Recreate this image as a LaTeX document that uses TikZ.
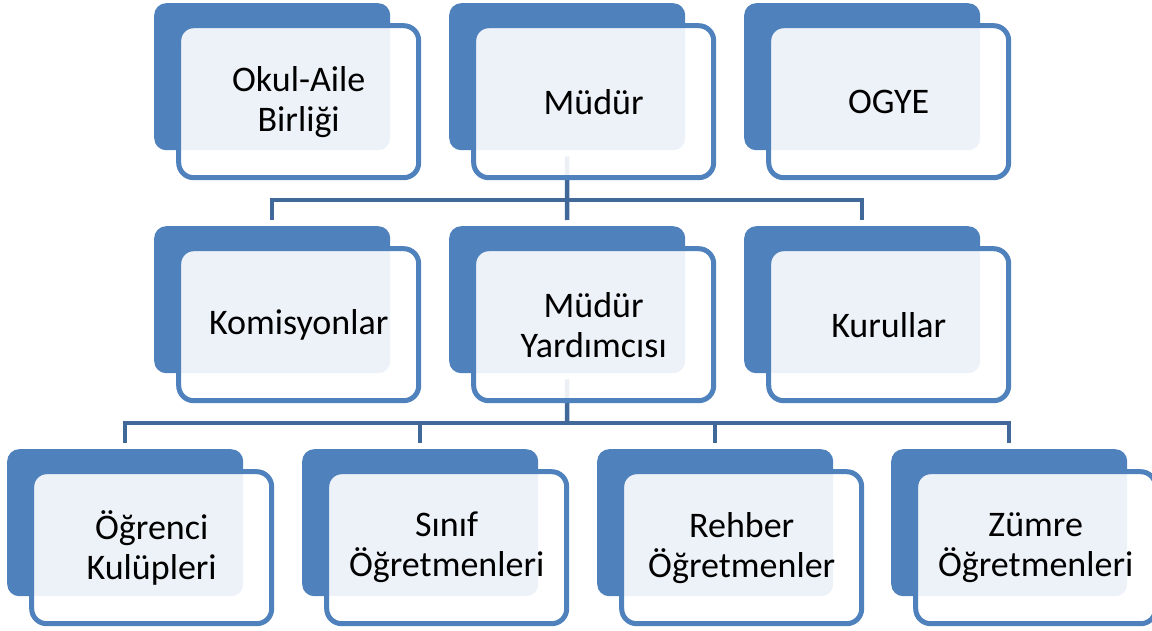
\documentclass[tikz,border=0pt]{standalone}
\usepackage{fontspec}
\setmainfont{Carlito}
\usepackage{tikz}
\definecolor{boxblue}{RGB}{79,129,189}
\definecolor{linkblue}{RGB}{64,104,153}

\begin{document}
\begin{tikzpicture}[x=1pt,y=-1pt,
    every node/.style={font=\fontsize{36pt}{40pt}\selectfont},
    back/.style={fill=boxblue, rounded corners=12pt, minimum width=236pt, minimum height=147pt, anchor=north west, inner sep=0pt},
    front/.style={draw=boxblue, line width=5pt, fill=white, fill opacity=0.9, text opacity=1, rounded corners=15pt, minimum width=240pt, minimum height=152pt, align=center, inner sep=0pt},
    link/.style={draw=linkblue, line width=4.5pt}]
    \useasboundingbox (0,0) rectangle (1152,631);
    % back boxes
    \node[back] (okulb) at (154,3) {};
    \node[back] (mudurb) at (449,3) {};
    \node[back] (ogyeb) at (744,3) {};
    \node[back] (komb) at (154,226) {};
    \node[back] (yrdb) at (449,226) {};
    \node[back] (kurulb) at (744,226) {};
    \node[back] (ogrb) at (7,449) {};
    \node[back] (sinifb) at (302,449) {};
    \node[back] (rehberb) at (597,449) {};
    \node[back] (zumreb) at (891,449) {};
    % connectors
    \coordinate (bar1) at (567,200);
    \coordinate (bar2) at (567,423);
    \draw[link] ([yshift=-6pt]mudurb.south) -- (bar1);
    \draw[link] ([yshift=6pt]komb.north) |- (bar1) -| ([yshift=6pt]kurulb.north);
    \draw[link] (bar1) -- ([yshift=6pt]yrdb.north);
    \draw[link] ([yshift=-6pt]yrdb.south) -- (bar2);
    \draw[link] ([yshift=6pt]ogrb.north) |- (bar2) -| ([yshift=6pt]zumreb.north);
    \draw[link] ([yshift=6pt]sinifb.north) |- (bar2);
    \draw[link] ([yshift=6pt]rehberb.north) |- (bar2);
    % front boxes
    \node[front] (okul) at ([shift={(26.5pt,-25pt)}]okulb.center) {Okul-Aile\\Birliği};
    \node[front] (mudur) at ([shift={(26.5pt,-25pt)}]mudurb.center) {Müdür};
    \node[front] (ogye) at ([shift={(26.5pt,-25pt)}]ogyeb.center) {OGYE};
    \node[front] (kom) at ([shift={(26.5pt,-25pt)}]komb.center) {Komisyonlar};
    \node[front] (yrd) at ([shift={(26.5pt,-25pt)}]yrdb.center) {Müdür\\Yardımcısı};
    \node[front] (kurul) at ([shift={(26.5pt,-25pt)}]kurulb.center) {Kurullar};
    \node[front] (ogr) at ([shift={(26.5pt,-25pt)}]ogrb.center) {Öğrenci\\Kulüpleri};
    \node[front] (sinif) at ([shift={(26.5pt,-25pt)}]sinifb.center) {Sınıf\\Öğretmenleri};
    \node[front] (rehber) at ([shift={(26.5pt,-25pt)}]rehberb.center) {Rehber\\Öğretmenler};
    \node[front] (zumre) at ([shift={(26.5pt,-25pt)}]zumreb.center) {Zümre\\Öğretmenleri};
\end{tikzpicture}
\end{document}
